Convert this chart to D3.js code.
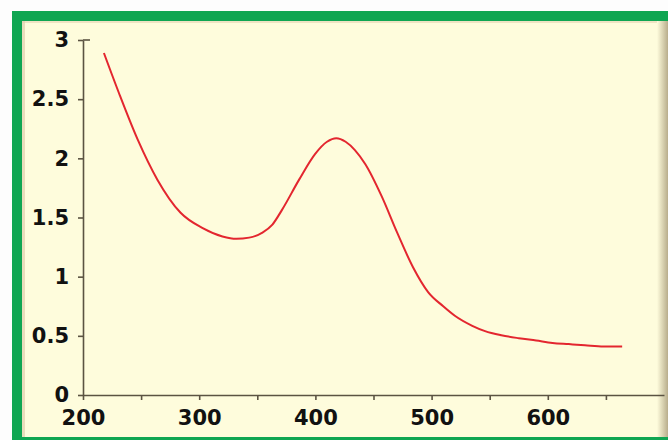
<!DOCTYPE html>
<html>
<head>
<meta charset="utf-8">
<script src="https://cdn.jsdelivr.net/npm/d3@7"></script>
<style>
  html, body { margin: 0; padding: 0; background: #fdfdfd; }
  svg { display: block; }
</style>
</head>
<body>
<svg width="668" height="440"></svg>
<script>
var svg = d3.select('svg');

// absorbance spectrum
var wavelength = [218, 231, 247, 264, 284, 303, 320, 332, 343, 354, 363, 371, 386, 400, 410, 418, 426, 434, 443, 457, 470, 484, 497, 510, 520, 535, 546, 560, 575, 590, 604, 618, 632, 648, 664];
var absorbance = [2.89, 2.55, 2.16, 1.82, 1.54, 1.41, 1.34, 1.32, 1.33, 1.37, 1.44, 1.56, 1.82, 2.04, 2.14, 2.17, 2.14, 2.07, 1.95, 1.68, 1.38, 1.08, 0.87, 0.75, 0.67, 0.585, 0.54, 0.505, 0.48, 0.46, 0.44, 0.43, 0.42, 0.41, 0.41];
var xTicks = [200, 250, 300, 350, 400, 450, 500, 550, 600, 650];
var yTicks = [0, 0.5, 1, 1.5, 2, 2.5, 3];

var data = wavelength.map(function (w, i) { return { w: w, a: absorbance[i] }; });

// frame
svg.append("rect").attr("x", 12).attr("y", 11).attr("width", 660).attr("height", 433).attr("fill", "#0fa652");
svg.append("rect").attr("x", 22).attr("y", 21).attr("width", 650).attr("height", 416).attr("fill", "#fefcdc");
// soft inner shadow along the green edge
svg.append("rect").attr("x", 22).attr("y", 21).attr("width", 650).attr("height", 2).attr("fill", "#e8d8b8").attr("opacity", 0.7);
svg.append("rect").attr("x", 22).attr("y", 21).attr("width", 3).attr("height", 416).attr("fill", "#e0cfae").attr("opacity", 0.7);
var grad = svg.append("defs").append("linearGradient").attr("id", "shade");
grad.append("stop").attr("offset", "0%").attr("stop-color", "#fefcdc");
grad.append("stop").attr("offset", "100%").attr("stop-color", "#b8ad8c");
svg.append("rect").attr("x", 657).attr("y", 21).attr("width", 11).attr("height", 416).attr("fill", "url(#shade)");

var x = d3.scaleLinear().domain([200, 700]).range([83, 664]);
var y = d3.scaleLinear().domain([0, 3]).range([395, 40]);

var axisColor = "#5b5342";

var xAxis = svg.append("g")
    .attr("transform", "translate(0,395)")
    .call(d3.axisBottom(x).tickValues(xTicks).tickSize(5).tickSizeOuter(0)
        .tickFormat(function (d) { return d % 100 === 0 ? d : ""; }));

var yAxis = svg.append("g")
    .attr("transform", "translate(83,0)")
    .call(d3.axisLeft(y).tickValues(yTicks).tickSize(5).tickSizeOuter(0)
        .tickFormat(function (d) { return d; }));

svg.selectAll(".domain").attr("stroke", axisColor).attr("stroke-width", 1.6);
svg.selectAll(".tick line").attr("stroke", axisColor).attr("stroke-width", 1.6);
svg.selectAll(".tick text")
    .attr("fill", "#111")
    .style("font-family", "'DejaVu Sans', Verdana, sans-serif")
    .style("font-weight", "bold")
    .style("font-size", "21px");
xAxis.selectAll(".tick text").attr("y", 15);
yAxis.selectAll(".tick text").attr("x", -14);

// little stub at the top of the y axis
svg.append("line").attr("x1", 83).attr("x2", 90).attr("y1", y(3)).attr("y2", y(3))
    .attr("stroke", axisColor).attr("stroke-width", 1.6);

var line = d3.line()
    .x(function (d) { return x(d.w); })
    .y(function (d) { return y(d.a); })
    .curve(d3.curveMonotoneX);

svg.append("path")
    .datum(data)
    .attr("d", line)
    .attr("fill", "none")
    .attr("stroke", "#e3262f")
    .attr("stroke-width", 2);
</script>
</body>
</html>
